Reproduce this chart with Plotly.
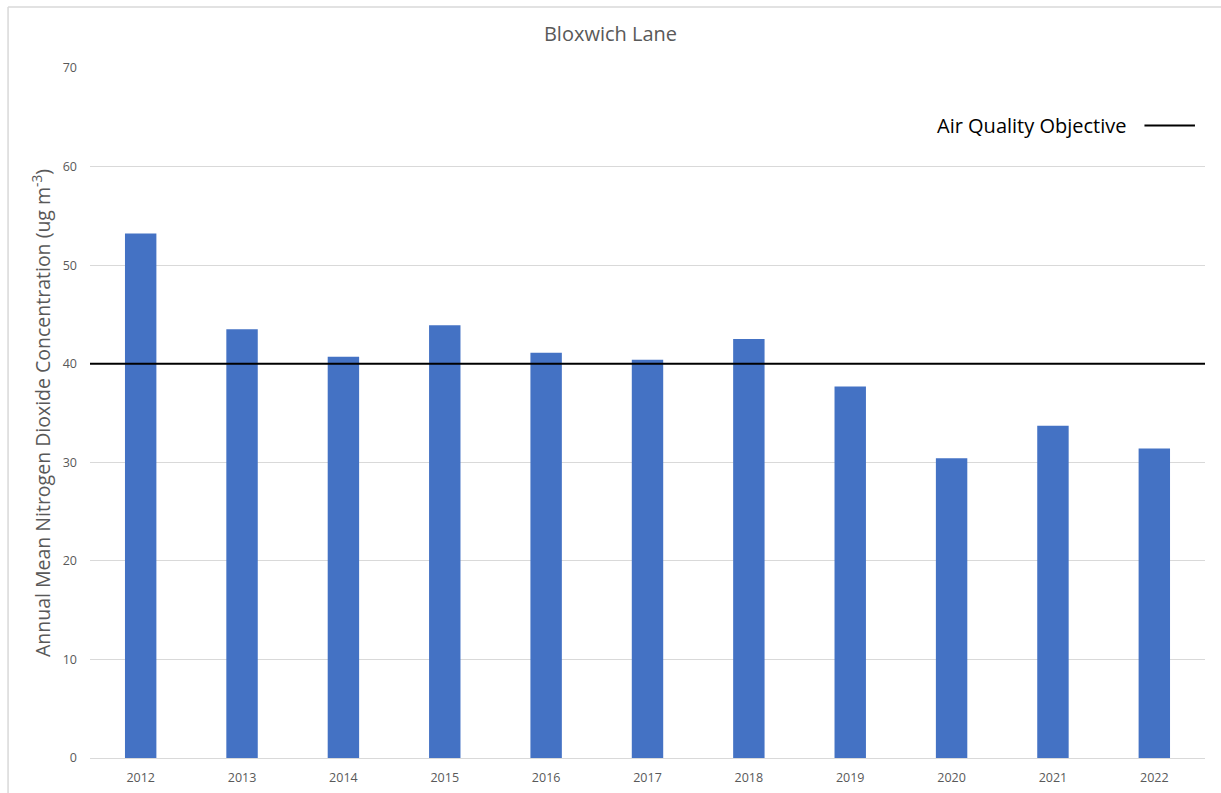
import plotly.graph_objects as go

years = ["2012", "2013", "2014", "2015", "2016", "2017", "2018", "2019", "2020", "2021", "2022"]
no2 = [53.2, 43.5, 40.7, 43.9, 41.1, 40.4, 42.5, 37.7, 30.4, 33.7, 31.4]
objective = 40
objective_label = "Air Quality Objective"
y_ticks = [0, 10, 20, 30, 40, 50, 60, 70]

FONT = "Open Sans, Liberation Sans, sans-serif"

fig = go.Figure()
fig.add_trace(go.Bar(x=years, y=no2, marker=dict(color="#4472C4", line=dict(width=0)),
                     showlegend=False))

# Objective line across plot area
fig.add_shape(type="line", xref="paper", yref="y", x0=0, x1=1, y0=objective, y1=objective,
              line=dict(color="black", width=2))

# Legend-like key
fig.add_annotation(xref="paper", yref="paper", x=0.932, y=0.916, xanchor="right", yanchor="middle",
                   text=objective_label, showarrow=False,
                   font=dict(family=FONT, size=20, color="black"))
fig.add_shape(type="line", xref="paper", yref="paper", x0=0.9457, x1=0.991, y0=0.9165, y1=0.9165,
              line=dict(color="black", width=2))

# Chart border (top and left)
fig.add_shape(type="line", xref="paper", yref="paper", x0=-0.0735, x1=-0.0735, y0=-0.06, y1=1.0884,
              line=dict(color="#d9d9d9", width=1.5))
fig.add_shape(type="line", xref="paper", yref="paper", x0=-0.0735, x1=1.02, y0=1.0884, y1=1.0884,
              line=dict(color="#d9d9d9", width=1.5))

fig.update_layout(
    width=1221, height=793,
    margin=dict(l=90, r=16, t=68, b=35),
    paper_bgcolor="white", plot_bgcolor="white",
    bargap=0.69,
    title=dict(text="Bloxwich Lane", x=0.5, xanchor="center", y=0.957, yanchor="middle",
               font=dict(family=FONT, size=20, color="#595959")),
    font=dict(family=FONT, color="#595959"),
)
fig.update_xaxes(type="category", showgrid=False, showline=True, linecolor="#d9d9d9", linewidth=1,
                 ticks="", ticklabelstandoff=8, automargin=False,
                 tickfont=dict(size=12.5, color="#595959"))
fig.update_yaxes(range=[0, 70], tickvals=y_ticks, showgrid=True, gridcolor="#d9d9d9", gridwidth=1,
                 zeroline=False, showline=False, ticks="", ticklabelstandoff=12, automargin=False,
                 tickfont=dict(size=12.5, color="#595959"),
                 title=dict(text="Annual Mean Nitrogen Dioxide Concentration (ug m<sup>-3</sup>)",
                            font=dict(size=19.5, color="#595959"), standoff=6))

fig.write_html("out.html")
